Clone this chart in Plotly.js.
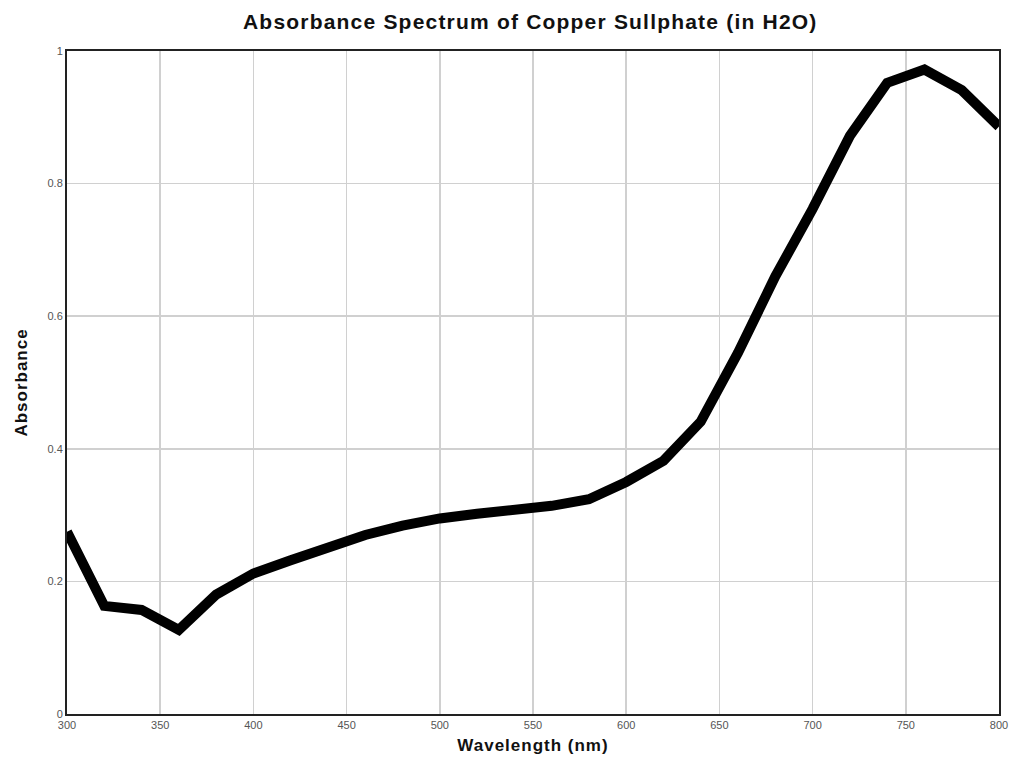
<!DOCTYPE html>
<html><head><meta charset="utf-8">
<script src="https://cdn.plot.ly/plotly-3.0.1.min.js"></script>
<style>
html,body{margin:0;padding:0;background:#fff}#chart{width:1010px;height:762px}
#chart .gtitle{letter-spacing:1.2px}
#chart .xtitle, #chart .ytitle{letter-spacing:1px}
</style>
</head><body><div id="chart"></div>
<script>
const wavelength = [300,320,340,360,380,400,420,440,460,480,500,520,540,560,580,600,620,640,660,680,700,720,740,760,780,800];
const absorbance = [0.275,0.163,0.157,0.127,0.180,0.212,0.232,0.250,0.270,0.284,0.295,0.302,0.308,0.314,0.324,0.350,0.382,0.441,0.545,0.660,0.762,0.872,0.952,0.972,0.941,0.886];
const xTicks = [300,350,400,450,500,550,600,650,700,750,800];
const yTicks = [0,0.2,0.4,0.6,0.8,1];
const yTickText = ['0','0.2','0.4','0.6','0.8','1'];

Plotly.newPlot('chart', [{
  x: wavelength, y: absorbance, type: 'scatter', mode: 'lines',
  line: {color: '#000', width: 10, shape: 'linear'}, hoverinfo: 'skip'
}], {
  width: 1010, height: 762,
  margin: {l: 67, r: 11, t: 51, b: 48},
  paper_bgcolor: '#fff', plot_bgcolor: '#fff',
  font: {family: 'Liberation Sans, Arial, sans-serif'},
  title: {text: '<b>Absorbance Spectrum of Copper Sullphate (in H2O)</b>', x: 0.525, xanchor: 'center', y: 0.972, yanchor: 'middle',
          font: {size: 21, color: '#111'}},
  xaxis: {range: [300, 800], tickvals: xTicks, ticktext: xTicks.map(String), showgrid: true, gridcolor: '#d0d0d0', gridwidth: 1.5,
          showline: true, linecolor: '#222', linewidth: 2, mirror: true, ticks: '', zeroline: false,
          tickfont: {size: 11, color: '#555'},
          title: {text: '<b>Wavelength (nm)</b>', font: {size: 17, color: '#111'}, standoff: 9}},
  yaxis: {range: [0, 1], tickvals: yTicks, ticktext: yTickText, showgrid: true, gridcolor: '#d0d0d0', gridwidth: 1.5,
          showline: true, linecolor: '#222', linewidth: 2, mirror: true, ticks: '', zeroline: false,
          tickfont: {size: 11, color: '#555'},
          title: {text: '<b>Absorbance</b>', font: {size: 17, color: '#111'}, standoff: 16}},
  showlegend: false
}, {displayModeBar: false, staticPlot: true});
</script></body></html>
